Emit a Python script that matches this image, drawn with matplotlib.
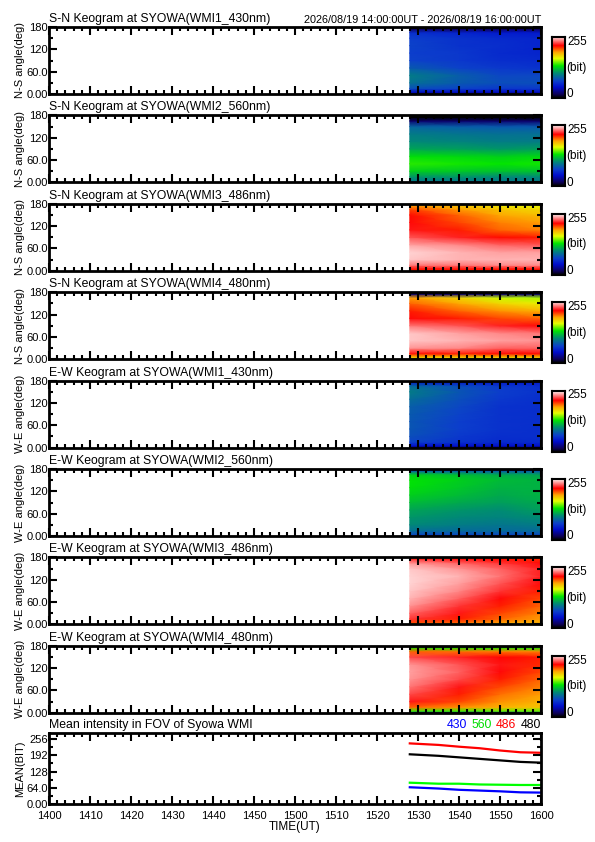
import numpy as np
import matplotlib
matplotlib.use("Agg")
import matplotlib.pyplot as plt
from matplotlib.colors import LinearSegmentedColormap

plt.rcParams['font.family'] = ['Liberation Sans', 'DejaVu Sans']

# time in minutes after 14:00 UT, angle in degrees
t_cols = [88, 100, 110, 120]
ang_rows = [0, 5, 15, 30, 50, 70, 90, 110, 130, 150, 165, 175, 180]

titles = ["S-N Keogram at SYOWA(WMI1_430nm)", "S-N Keogram at SYOWA(WMI2_560nm)",
          "S-N Keogram at SYOWA(WMI3_486nm)", "S-N Keogram at SYOWA(WMI4_480nm)",
          "E-W Keogram at SYOWA(WMI1_430nm)", "E-W Keogram at SYOWA(WMI2_560nm)",
          "E-W Keogram at SYOWA(WMI3_486nm)", "E-W Keogram at SYOWA(WMI4_480nm)"]
ylabels = ["N-S angle(deg)"] * 4 + ["W-E angle(deg)"] * 4

# keogram intensity (bit), rows = ang_rows (bottom->top), cols = t_cols
sn_430 = [[10, 10, 10, 10], [40, 40, 40, 40], [75, 70, 65, 65], [90, 80, 75, 75],
          [95, 82, 72, 72], [80, 70, 65, 62], [70, 65, 60, 58], [68, 65, 58, 55],
          [70, 62, 60, 55], [68, 62, 58, 55], [60, 55, 50, 50], [15, 15, 15, 15], [0, 0, 0, 0]]
sn_560 = [[60, 60, 60, 60], [95, 95, 95, 95], [105, 105, 100, 100], [125, 122, 120, 120],
          [138, 135, 133, 135], [130, 128, 125, 128], [110, 108, 105, 108], [100, 98, 95, 95],
          [95, 92, 90, 90], [85, 82, 80, 80], [20, 20, 20, 20], [0, 0, 0, 0], [0, 0, 0, 0]]
sn_486 = [[205, 205, 205, 205], [215, 215, 215, 215], [235, 235, 238, 238], [248, 245, 245, 245],
          [250, 245, 242, 242], [242, 238, 232, 230], [230, 222, 215, 212], [220, 212, 200, 195],
          [218, 205, 195, 190], [215, 200, 188, 182], [205, 190, 180, 175], [190, 180, 170, 165],
          [175, 170, 165, 160]]
sn_480 = [[0, 0, 0, 0], [175, 175, 175, 175], [215, 212, 215, 215], [240, 238, 232, 232],
          [248, 245, 242, 240], [248, 242, 238, 235], [235, 230, 222, 218], [218, 212, 205, 200],
          [212, 200, 192, 185], [200, 188, 175, 168], [190, 175, 160, 155], [20, 20, 20, 20],
          [0, 0, 0, 0]]
ew_430 = [[15, 15, 15, 15], [45, 45, 45, 45], [70, 62, 58, 58], [75, 65, 60, 60],
          [78, 68, 62, 60], [78, 68, 62, 60], [80, 70, 62, 60], [82, 72, 62, 60],
          [88, 75, 65, 60], [95, 78, 68, 62], [88, 75, 65, 60], [50, 50, 50, 50], [10, 10, 10, 10]]
ew_560 = [[40, 40, 40, 40], [75, 75, 75, 75], [90, 88, 88, 88], [100, 95, 92, 95],
          [105, 100, 98, 102], [110, 105, 102, 108], [118, 112, 108, 112], [125, 118, 112, 115],
          [130, 122, 115, 115], [132, 125, 118, 115], [125, 118, 112, 110], [80, 80, 80, 80],
          [30, 30, 30, 30]]
ew_486 = [[150, 150, 150, 150], [205, 200, 190, 185], [225, 212, 200, 190], [232, 220, 205, 195],
          [240, 225, 212, 200], [245, 232, 218, 205], [248, 238, 225, 212], [250, 242, 230, 218],
          [250, 245, 235, 222], [248, 240, 232, 222], [240, 232, 225, 218], [225, 220, 215, 210],
          [205, 205, 205, 205]]
ew_480 = [[35, 35, 35, 35], [140, 140, 145, 145], [200, 192, 185, 180], [220, 205, 192, 185],
          [228, 212, 198, 190], [235, 220, 205, 195], [240, 228, 212, 200], [242, 232, 218, 205],
          [240, 230, 220, 210], [228, 222, 216, 212], [200, 198, 196, 195], [135, 135, 135, 135],
          [30, 30, 30, 30]]
keograms = [sn_430, sn_560, sn_486, sn_480, ew_430, ew_560, ew_486, ew_480]

# mean intensity in FOV
mean_t = [88, 95, 100, 105, 110, 115, 120]
mean_430 = [66, 61, 56, 53, 50, 46, 45]
mean_560 = [84, 80, 80, 77, 76, 75, 75]
mean_486 = [239, 233, 226, 220, 211, 204, 202]
mean_480 = [196, 190, 184, 178, 172, 166, 163]

cmap = LinearSegmentedColormap.from_list("idl", [
    (0.00, (0.0, 0.0, 0.0)), (0.06, (0.05, 0.0, 0.35)), (0.17, (0.0, 0.05, 0.8)),
    (0.27, (0.05, 0.25, 0.8)), (0.40, (0.0, 0.55, 0.45)), (0.52, (0.0, 0.9, 0.0)),
    (0.64, (0.9, 1.0, 0.0)), (0.74, (1.0, 0.65, 0.0)), (0.85, (1.0, 0.0, 0.0)),
    (1.00, (1.0, 0.95, 0.95))])

W, H = 595, 842
fig = plt.figure(figsize=(W / 100, H / 100), dpi=100)


def px_axes(x0, y0, x1, y1):
    return fig.add_axes([x0 / W, 1 - y1 / H, (x1 - x0) / W, (y1 - y0) / H])


def style(ax):
    for s in ax.spines.values():
        s.set_linewidth(2.0)
    ax.tick_params(which='both', direction='in', top=True, right=True, width=1.5, labelsize=8)
    ax.tick_params(which='major', length=6)
    ax.tick_params(which='minor', length=3)
    ax.set_xlim(0, 120)
    ax.set_xticks(range(0, 121, 10))
    ax.set_xticks(range(0, 121, 2), minor=True)


xl, xr = 49, 541
for i in range(8):
    top = 27 + 88.4 * i
    ax = px_axes(xl, top, xr, top + 67)
    T, A = np.meshgrid(t_cols, ang_rows)
    ax.pcolormesh(T, A, np.array(keograms[i]), cmap=cmap, vmin=0, vmax=255, shading='gouraud')
    style(ax)
    ax.set_ylim(0, 180)
    ax.set_yticks([0, 60, 120, 180])
    ax.set_yticklabels(["0.00", "60.0", "120", "180"])
    ax.set_yticks(range(0, 181, 30), minor=True)
    ax.set_xticklabels([])
    ax.tick_params(axis='y', pad=1)
    ax.set_ylabel(ylabels[i], fontsize=8, labelpad=1)
    ax.text(0, 1.03, titles[i], transform=ax.transAxes, fontsize=8.8, va='bottom', ha='left')
    if i == 0:
        ax.text(1, 1.03, "2026/08/19 14:00:00UT - 2026/08/19 16:00:00UT", transform=ax.transAxes,
                fontsize=7.8, va='bottom', ha='right')

    cax = px_axes(552, top + 10, 565, top + 71)
    cax.imshow(np.linspace(255, 0, 128).reshape(-1, 1), cmap=cmap, vmin=0, vmax=255,
               aspect='auto', extent=[0, 1, 0, 255])
    cax.set_xticks([])
    cax.set_yticks([])
    for s in cax.spines.values():
        s.set_linewidth(1.5)
    cax.text(1.15, 0.92, "255", transform=cax.transAxes, fontsize=8.5, va='center', ha='left')
    cax.text(1.1, 0.5, "(bit)", transform=cax.transAxes, fontsize=8.5, va='center', ha='left')
    cax.text(1.15, 0.06, "0", transform=cax.transAxes, fontsize=8.5, va='center', ha='left')

# mean intensity panel
ax = px_axes(xl, 733, xr, 804)
ax.plot(mean_t, mean_486, color='red', lw=1.6)
ax.plot(mean_t, mean_480, color='black', lw=1.6)
ax.plot(mean_t, mean_560, color='#00ff00', lw=1.6)
ax.plot(mean_t, mean_430, color='blue', lw=1.6)
style(ax)
ax.set_ylim(0, 280)
ax.set_yticks([0, 64, 128, 192, 256])
ax.set_yticklabels(["0.00", "64.0", "128", "192", "256"])
ax.set_yticks(range(0, 280, 32), minor=True)
ax.set_xticklabels(["%d" % (1400 + (m // 60) * 100 + m % 60) for m in range(0, 121, 10)])
ax.tick_params(axis='y', pad=1)
ax.tick_params(axis='x', pad=5)
ax.set_ylabel("MEAN(BIT)", fontsize=8, labelpad=1)
ax.set_xlabel("TIME(UT)", fontsize=8.5, labelpad=0)
ax.text(0, 1.03, "Mean intensity in FOV of Syowa WMI", transform=ax.transAxes, fontsize=8.8,
        va='bottom', ha='left')
leg = [("480", "black"), ("486", "red"), ("560", "#00dd00"), ("430", "blue")]
xpos = 1.0
for lab, c in leg:
    ax.text(xpos, 1.03, lab, transform=ax.transAxes, fontsize=8.8, color=c, va='bottom', ha='right')
    xpos -= 0.05

fig.savefig("out.png", dpi=100)
